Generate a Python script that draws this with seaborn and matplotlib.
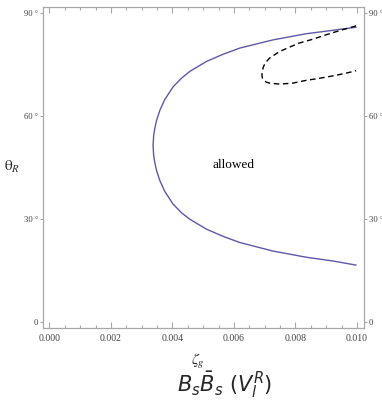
import numpy as np
import pandas as pd
import matplotlib
matplotlib.use("Agg")
import matplotlib.pyplot as plt
import seaborn as sns
from matplotlib.ticker import MultipleLocator, FixedLocator

# Solid boundary (blue): upper branch read right->left, then lower branch left->right
solid_x = [0.009973, 0.009215, 0.008350, 0.007267, 0.006185, 0.005644, 0.005103,
           0.004562, 0.004291, 0.004020, 0.003750, 0.003588, 0.003480, 0.003425,
           0.003390, 0.003370,
           0.003390, 0.003425, 0.003480, 0.003588, 0.003750, 0.004020, 0.004291,
           0.004562, 0.005103, 0.005644, 0.006185, 0.007267, 0.008350, 0.009215,
           0.009973]
solid_y = [85.9, 85.0, 84.0, 82.2, 79.8, 78.0, 75.9,
           73.0, 71.0, 68.5, 64.8, 61.6, 58.6, 56.3,
           54.4, 51.4,
           48.4, 46.5, 44.2, 41.2, 38.0, 34.3, 31.8,
           29.9, 27.0, 24.9, 23.1, 20.6, 18.8, 17.7,
           16.5]

# Dashed boundary (black)
dash_x = [0.009973, 0.009432, 0.008999, 0.008566, 0.008133, 0.007808, 0.007484,
          0.007159, 0.007030, 0.006964, 0.006925, 0.006910, 0.006925, 0.006964,
          0.007050, 0.007159, 0.007484, 0.007917, 0.008350, 0.008782, 0.009215,
          0.009648, 0.009973]
dash_y = [86.3, 84.9, 83.7, 82.4, 81.3, 80.1, 78.8,
          76.9, 75.6, 74.5, 73.3, 72.0, 71.1, 70.5,
          69.9, 69.6, 69.3, 69.6, 70.4, 71.0, 71.7,
          72.5, 73.2]

x_ticks = [0.000, 0.002, 0.004, 0.006, 0.008, 0.010]
x_labels = ["0.000", "0.002", "0.004", "0.006", "0.008", "0.010"]
y_ticks = [0, 30, 60, 90]
y_labels = ["0", "30 °", "60 °", "90 °"]

sns.set_style("white")
plt.rcParams["font.family"] = ["Liberation Serif", "DejaVu Serif"]

W, H = 382, 405
fig = plt.figure(figsize=(W / 100, H / 100), dpi=100)
ax = fig.add_axes([43 / W, 1 - 328 / H, (364 - 43) / W, (328 - 7) / H])

df_s = pd.DataFrame({"x": solid_x, "y": solid_y})
df_d = pd.DataFrame({"x": dash_x, "y": dash_y})

sns.lineplot(data=df_s, x="x", y="y", sort=False, estimator=None, ax=ax,
             color="#5e58ab", lw=1.0)
sns.lineplot(data=df_d, x="x", y="y", sort=False, estimator=None, ax=ax,
             color="black", lw=1.0)
ax.lines[-1].set_dashes([4, 2.6])
for ln in ax.lines:
    ln.set_solid_joinstyle("round")
    ln.set_dash_joinstyle("round")

ax.set_xlim(-0.00021, 0.01023)
ax.set_ylim(-1.85, 91.8)

gray = "#a8a8a8"
for s in ax.spines.values():
    s.set_color(gray)
    s.set_linewidth(0.9)

ax.xaxis.set_major_locator(FixedLocator(x_ticks))
ax.set_xticklabels(x_labels)
ax.xaxis.set_minor_locator(MultipleLocator(0.0005))
ax.tick_params(axis="x", which="both", direction="in", top=True, bottom=True,
               color=gray, width=0.8, labelsize=7, labelcolor="#444444", pad=4)
ax.tick_params(axis="x", which="major", length=4.5)
ax.tick_params(axis="x", which="minor", length=2.5)

ax.yaxis.set_major_locator(FixedLocator(y_ticks))
ax.set_yticklabels(y_labels)
ax.tick_params(axis="y", which="major", direction="out", left=True, right=True,
               labelleft=True, labelright=True, length=2.5, color=gray, width=0.8,
               labelsize=6.2, labelcolor="#444444", pad=0.8)

ax.set_xlabel("")
ax.set_ylabel("")

ax.text(0.00599, 45.7, "allowed", ha="center", va="center", fontsize=9.5,
        color="black")

fig.text(12.5 / W, 1 - 167 / H, r"$\mathrm{\theta}_R$", ha="center", va="center",
         fontsize=11, math_fontfamily="stix")
fig.text(198 / W, 1 - 361 / H, r"$\zeta_g$", ha="center", va="center",
         fontsize=11, math_fontfamily="stix")
fig.text(225 / W, 1 - 385 / H, r"$B_s\bar{B}_s\ (V_l^R)$", ha="center", va="center",
         fontsize=15, math_fontfamily="dejavusans")

fig.savefig("out.png", dpi=100)
